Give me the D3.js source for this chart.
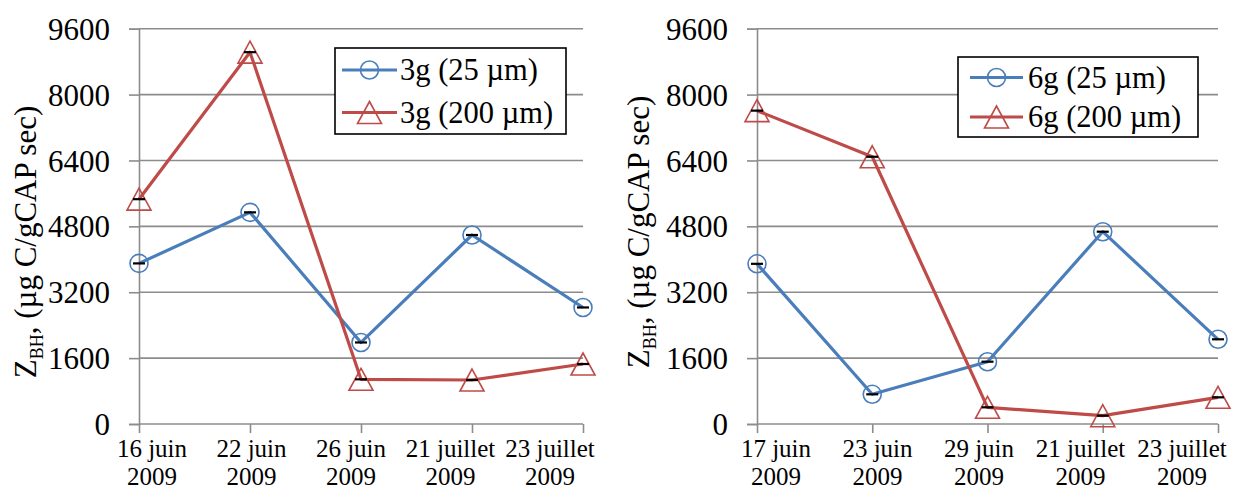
<!DOCTYPE html>
<html>
<head>
<meta charset="utf-8">
<script src="https://cdn.jsdelivr.net/npm/d3@7"></script>
<style>
  html, body { margin: 0; padding: 0; background: #fff; }
  svg { display: block; }
</style>
</head>
<body>
<svg id="chart" width="1233" height="489"></svg>
<script>
// Sampling dates for each panel
const datesLeft = ["16 juin 2009", "22 juin 2009", "26 juin 2009", "21 juillet 2009", "23 juillet 2009"];
const datesRight = ["17 juin 2009", "23 juin 2009", "29 juin 2009", "21 juillet 2009", "23 juillet 2009"];

// Z_BH values (µg C/gCAP sec)
const z3g25 = [3900, 5140, 1980, 4590, 2830];
const z3g200 = [5460, 9030, 1085, 1068, 1457];
const z6g25 = [3890, 721, 1513, 4670, 2057];
const z6g200 = [7610, 6490, 405, 202, 648];

const yTicks = [0, 1600, 3200, 4800, 6400, 8000, 9600];
const seriesNames = ["25 µm", "200 µm"];

const BLUE = "#4a7ebb";
const RED = "#be4b48";
const GRID = "#8c8c8c";
const SERIF = "\"Liberation Serif\"";

const svg = d3.select("#chart");

function drawPanel(cfg) {
  const g = svg.append("g");
  const x = d3.scalePoint().domain(cfg.dates).range([cfg.x0, cfg.x1]).padding(0);
  const xLab = d3.scalePoint().domain(cfg.dates).range(cfg.labelRange).padding(0);
  const y = d3.scaleLinear().domain([0, 9600]).range([424, 28.7]);

  // horizontal gridlines
  g.append("g").selectAll("line").data(yTicks.filter(d => d > 0)).join("line")
    .attr("x1", cfg.x0).attr("x2", cfg.x1)
    .attr("y1", d => y(d)).attr("y2", d => y(d))
    .attr("stroke", GRID).attr("stroke-width", 1.6);

  // y axis with ticks
  const yAxis = d3.axisLeft(y).tickValues(yTicks).tickSize(10).tickPadding(19).tickFormat(d3.format("d"));
  const ya = g.append("g").attr("transform", `translate(${cfg.x0},0)`).call(yAxis);
  ya.select(".domain").attr("stroke", GRID).attr("stroke-width", 1.6);
  ya.selectAll(".tick line").attr("stroke", GRID).attr("stroke-width", 1.6);
  ya.selectAll(".tick text").attr("font-size", 31).attr("fill", "#000").attr("dy", "0.34em");

  // x axis with tick marks
  const xAxis = d3.axisBottom(x).tickSize(9).tickFormat("");
  const xa = g.append("g").attr("transform", "translate(0,424)").call(xAxis);
  xa.select(".domain").attr("stroke", GRID).attr("stroke-width", 1.6).attr("d", `M${cfg.x0},0H${cfg.x1}`);
  xa.selectAll(".tick line").attr("stroke", GRID).attr("stroke-width", 1.6);

  // two-line date labels
  const lab = g.append("g").selectAll("text").data(cfg.dates).join("text")
    .attr("x", d => xLab(d)).attr("y", 457)
    .attr("text-anchor", "middle").attr("font-size", 25).attr("fill", "#000");
  lab.append("tspan").attr("x", d => xLab(d)).text(d => d.slice(0, d.lastIndexOf(" ")));
  lab.append("tspan").attr("x", d => xLab(d)).attr("dy", 28).text(d => d.slice(d.lastIndexOf(" ") + 1));

  // y axis title
  const t = g.append("text")
    .attr("transform", `translate(${cfg.titleX},${cfg.titleY}) rotate(-90)`)
    .attr("text-anchor", "middle").attr("font-size", 31).attr("fill", "#000");
  t.append("tspan").text("Z");
  t.append("tspan").attr("font-size", 18).attr("dy", 7).text("BH");
  t.append("tspan").attr("dy", -7).text(", (µg C/gCAP sec)");

  const line = d3.line().x((d, i) => x(cfg.dates[i])).y(d => y(d));
  const triangle = "M0,-11L12,11L-12,11Z";

  // 25 µm series (circles)
  g.append("path").datum(cfg.s25).attr("d", line)
    .attr("fill", "none").attr("stroke", BLUE).attr("stroke-width", 3.2).attr("stroke-linejoin", "round");
  g.append("g").selectAll("circle").data(cfg.s25).join("circle")
    .attr("cx", (d, i) => x(cfg.dates[i])).attr("cy", d => y(d)).attr("r", 9)
    .attr("fill", "none").attr("stroke", BLUE).attr("stroke-width", 1.6);

  // 200 µm series (triangles)
  g.append("path").datum(cfg.s200).attr("d", line)
    .attr("fill", "none").attr("stroke", RED).attr("stroke-width", 3.2).attr("stroke-linejoin", "round");
  g.append("g").selectAll("path").data(cfg.s200).join("path")
    .attr("transform", (d, i) => `translate(${x(cfg.dates[i])},${y(d)})`)
    .attr("d", triangle).attr("fill", "none").attr("stroke", RED).attr("stroke-width", 1.6);

  // error bar caps
  const caps = cfg.s25.map((d, i) => [i, d]).concat(cfg.s200.map((d, i) => [i, d]));
  g.append("g").selectAll("line").data(caps).join("line")
    .attr("x1", d => x(cfg.dates[d[0]]) - 6).attr("x2", d => x(cfg.dates[d[0]]) + 6)
    .attr("y1", d => y(d[1])).attr("y2", d => y(d[1]))
    .attr("stroke", "#000").attr("stroke-width", 2.2);

  // legend
  const L = cfg.legend;
  const lg = g.append("g");
  lg.append("rect").attr("x", L.x).attr("y", L.y).attr("width", L.w).attr("height", L.h)
    .attr("fill", "#fff").attr("stroke", "#000").attr("stroke-width", 1.6);
  const entries = [
    { name: `${cfg.prefix} (${seriesNames[0]})`, color: BLUE, kind: "circle" },
    { name: `${cfg.prefix} (${seriesNames[1]})`, color: RED, kind: "tri" }
  ];
  entries.forEach((e, i) => {
    const cy = L.rows[i];
    lg.append("line").attr("x1", L.lx0).attr("x2", L.lx1).attr("y1", cy).attr("y2", cy)
      .attr("stroke", e.color).attr("stroke-width", 3.2);
    const mx = (L.lx0 + L.lx1) / 2;
    if (e.kind === "circle") {
      lg.append("circle").attr("cx", mx).attr("cy", cy).attr("r", 9)
        .attr("fill", "none").attr("stroke", e.color).attr("stroke-width", 1.6);
    } else {
      lg.append("path").attr("transform", `translate(${mx},${cy})`).attr("d", triangle)
        .attr("fill", "none").attr("stroke", e.color).attr("stroke-width", 1.6);
    }
    lg.append("text").attr("x", L.tx).attr("y", cy + 10).attr("font-size", 30.5).attr("fill", "#000").text(e.name);
  });
}

drawPanel({
  dates: datesLeft, s25: z3g25, s200: z3g200, prefix: "3g",
  x0: 139, x1: 583, labelRange: [152, 550],
  titleX: 36, titleY: 242,
  legend: { x: 335, y: 48, w: 231, h: 86, rows: [70, 112.5], lx0: 342, lx1: 397, tx: 400 }
});

drawPanel({
  dates: datesRight, s25: z6g25, s200: z6g200, prefix: "6g",
  x0: 757, x1: 1218, labelRange: [776, 1182],
  titleX: 649, titleY: 232,
  legend: { x: 958, y: 57, w: 240, h: 80, rows: [77.5, 117], lx0: 970, lx1: 1023, tx: 1028 }
});

// serif face for every label, axis groups included
svg.selectAll("g").attr("font-family", null);
svg.selectAll("text").style("font-family", SERIF).attr("font-family", "Liberation Serif");
</script>
</body>
</html>
